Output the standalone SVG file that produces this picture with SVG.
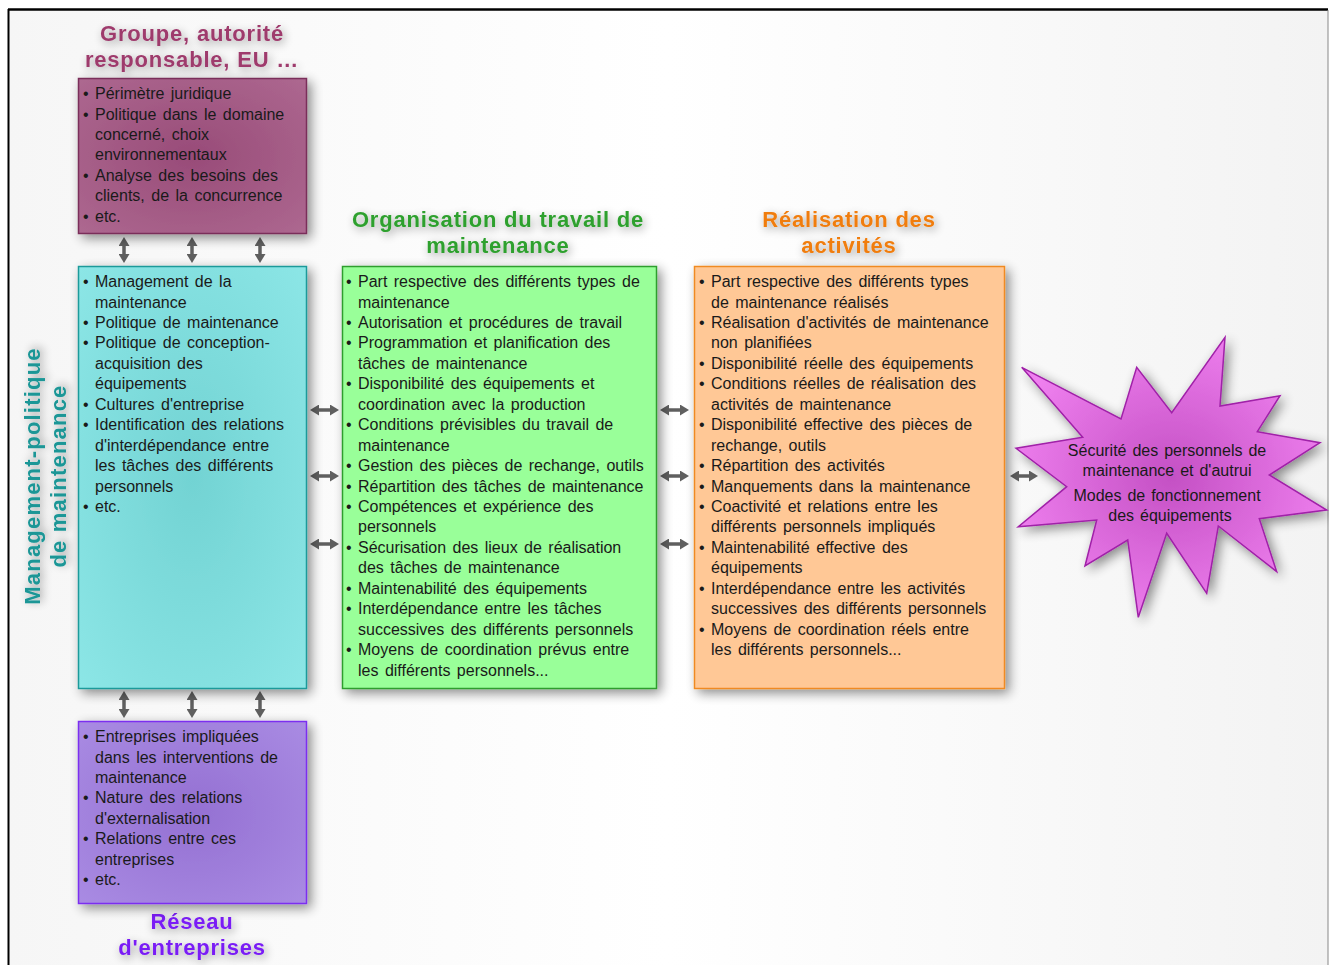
<svg xmlns="http://www.w3.org/2000/svg" width="1329" height="965" viewBox="0 0 1329 965">
<defs>
<style>
.body{font-family:"Liberation Sans",Arial,sans-serif;font-size:16px;fill:#1a1a1a;word-spacing:2px;}
.title{font-family:"Liberation Sans",Arial,sans-serif;font-size:22px;font-weight:bold;text-anchor:middle;letter-spacing:0.8px;}
.star{font-family:"Liberation Sans",Arial,sans-serif;font-size:16px;fill:#1a1a1a;text-anchor:middle;word-spacing:1.5px;}
.arrow{stroke:#5f5f5f;stroke-width:3.5;fill:none;marker-start:url(#ah);marker-end:url(#ah);}
</style>
<marker id="ah" viewBox="0 0 9 11" refX="3" refY="5.5" markerWidth="9" markerHeight="11" markerUnits="userSpaceOnUse" orient="auto-start-reverse">
<path d="M0,0 L9,5.5 L0,11 z" fill="#5f5f5f"/>
</marker>
<filter id="sh" x="-20%" y="-20%" width="140%" height="140%">
<feGaussianBlur in="SourceAlpha" stdDeviation="6"/>
<feOffset dx="4" dy="4" result="b"/>
<feComponentTransfer><feFuncA type="linear" slope="0.45"/></feComponentTransfer>
<feMerge><feMergeNode/><feMergeNode in="SourceGraphic"/></feMerge>
</filter>
<filter id="tsh" x="-20%" y="-40%" width="140%" height="180%">
<feGaussianBlur in="SourceAlpha" stdDeviation="5"/>
<feOffset dx="2" dy="3"/>
<feComponentTransfer><feFuncA type="linear" slope="0.4"/></feComponentTransfer>
<feMerge><feMergeNode/><feMergeNode in="SourceGraphic"/></feMerge>
</filter>
<linearGradient id="bg" x1="0" y1="0" x2="1" y2="0">
<stop offset="0" stop-color="#f6f6f6"/>
<stop offset="0.5" stop-color="#ffffff"/>
<stop offset="1" stop-color="#f3f3f3"/>
</linearGradient>
<radialGradient id="gPurple" cx="0.5" cy="0.5" r="0.7">
<stop offset="0" stop-color="#984b78"/>
<stop offset="1" stop-color="#ad6890"/>
</radialGradient>
<radialGradient id="gCyan" cx="0.5" cy="0.5" r="0.7">
<stop offset="0" stop-color="#72d3d3"/>
<stop offset="1" stop-color="#8ce6e6"/>
</radialGradient>
<radialGradient id="gViolet" cx="0.5" cy="0.5" r="0.7">
<stop offset="0" stop-color="#9470d2"/>
<stop offset="1" stop-color="#a98be3"/>
</radialGradient>
<radialGradient id="gStar" cx="0.5" cy="0.5" r="0.55">
<stop offset="0" stop-color="#c450c4"/>
<stop offset="1" stop-color="#ef80ef"/>
</radialGradient>
</defs>

<rect x="8" y="9" width="1320" height="960" fill="url(#bg)"/>
<line x1="8" y1="9.5" x2="1328" y2="9.5" stroke="#000" stroke-width="2.5"/>
<line x1="8.5" y1="9" x2="8.5" y2="965" stroke="#000" stroke-width="2"/>
<line x1="1328" y1="10" x2="1328" y2="965" stroke="#888" stroke-width="1"/>

<g id="titles">
<text class="title" fill="#9e3a6c" filter="url(#tsh)"><tspan x="192" y="41">Groupe, autorité</tspan><tspan x="192" y="67">responsable, EU …</tspan></text>
<text class="title" fill="#2ea02e" filter="url(#tsh)"><tspan x="498" y="227">Organisation du travail de</tspan><tspan x="498" y="253">maintenance</tspan></text>
<text class="title" fill="#f07d0f" filter="url(#tsh)"><tspan x="849" y="227">Réalisation des</tspan><tspan x="849" y="253">activités</tspan></text>
<text class="title" fill="#7a1ff5" filter="url(#tsh)"><tspan x="192" y="929">Réseau</tspan><tspan x="192" y="955">d'entreprises</tspan></text>
<text class="title" fill="#1a9696" filter="url(#tsh)" transform="translate(0,476) rotate(-90)" style="letter-spacing:1.2px"><tspan x="0" y="40">Management-politique</tspan><tspan x="0" y="66">de maintenance</tspan></text>
</g>

<g id="connectors">
<line class="arrow" x1="124" y1="243" x2="124" y2="257"/>
<line class="arrow" x1="192" y1="243" x2="192" y2="257"/>
<line class="arrow" x1="260" y1="243" x2="260" y2="257"/>
<line class="arrow" x1="124" y1="697" x2="124" y2="712"/>
<line class="arrow" x1="192" y1="697" x2="192" y2="712"/>
<line class="arrow" x1="260" y1="697" x2="260" y2="712"/>
<line class="arrow" x1="316" y1="410" x2="333" y2="410"/>
<line class="arrow" x1="316" y1="476" x2="333" y2="476"/>
<line class="arrow" x1="316" y1="544" x2="333" y2="544"/>
<line class="arrow" x1="666" y1="410" x2="683" y2="410"/>
<line class="arrow" x1="666" y1="476" x2="683" y2="476"/>
<line class="arrow" x1="666" y1="544" x2="683" y2="544"/>
<line class="arrow" x1="1016" y1="476" x2="1032" y2="476"/>
</g>

<g id="groupe">
<rect x="78.5" y="78.5" width="228" height="155" fill="url(#gPurple)" stroke="#7a2d5a" stroke-width="1.5" filter="url(#sh)"/>
<text class="body">
<tspan x="83" y="99">•</tspan><tspan x="95">Périmètre juridique</tspan>
<tspan x="83" y="119.5">•</tspan><tspan x="95">Politique dans le domaine</tspan>
<tspan x="95" y="139.9">concerné, choix</tspan>
<tspan x="95" y="160.4">environnementaux</tspan>
<tspan x="83" y="180.8">•</tspan><tspan x="95">Analyse des besoins des</tspan>
<tspan x="95" y="201.3">clients, de la concurrence</tspan>
<tspan x="83" y="221.7">•</tspan><tspan x="95">etc.</tspan>
</text>
</g>

<g id="management">
<rect x="78.5" y="266.5" width="228" height="422" fill="url(#gCyan)" stroke="#1a9a9a" stroke-width="1.5" filter="url(#sh)"/>
<text class="body">
<tspan x="83" y="287">•</tspan><tspan x="95">Management de la</tspan>
<tspan x="95" y="307.5">maintenance</tspan>
<tspan x="83" y="327.9">•</tspan><tspan x="95">Politique de maintenance</tspan>
<tspan x="83" y="348.4">•</tspan><tspan x="95">Politique de conception-</tspan>
<tspan x="95" y="368.8">acquisition des</tspan>
<tspan x="95" y="389.3">équipements</tspan>
<tspan x="83" y="409.7">•</tspan><tspan x="95">Cultures d'entreprise</tspan>
<tspan x="83" y="430.2">•</tspan><tspan x="95">Identification des relations</tspan>
<tspan x="95" y="450.6">d'interdépendance entre</tspan>
<tspan x="95" y="471.1">les tâches des différents</tspan>
<tspan x="95" y="491.5">personnels</tspan>
<tspan x="83" y="512">•</tspan><tspan x="95">etc.</tspan>
</text>
</g>

<g id="reseau">
<rect x="78.5" y="721.5" width="228" height="182" fill="url(#gViolet)" stroke="#7b2ff0" stroke-width="1.5" filter="url(#sh)"/>
<text class="body">
<tspan x="83" y="742">•</tspan><tspan x="95">Entreprises impliquées</tspan>
<tspan x="95" y="762.5">dans les interventions de</tspan>
<tspan x="95" y="782.9">maintenance</tspan>
<tspan x="83" y="803.4">•</tspan><tspan x="95">Nature des relations</tspan>
<tspan x="95" y="823.8">d'externalisation</tspan>
<tspan x="83" y="844.3">•</tspan><tspan x="95">Relations entre ces</tspan>
<tspan x="95" y="864.7">entreprises</tspan>
<tspan x="83" y="885.2">•</tspan><tspan x="95">etc.</tspan>
</text>
</g>

<g id="organisation">
<rect x="342.5" y="266.5" width="314" height="422" fill="#99ff99" stroke="#2e9e2e" stroke-width="1.5" filter="url(#sh)"/>
<text class="body">
<tspan x="346" y="287">•</tspan><tspan x="358">Part respective des différents types de</tspan>
<tspan x="358" y="307.5">maintenance</tspan>
<tspan x="346" y="327.9">•</tspan><tspan x="358">Autorisation et procédures de travail</tspan>
<tspan x="346" y="348.4">•</tspan><tspan x="358">Programmation et planification des</tspan>
<tspan x="358" y="368.8">tâches de maintenance</tspan>
<tspan x="346" y="389.3">•</tspan><tspan x="358">Disponibilité des équipements et</tspan>
<tspan x="358" y="409.7">coordination avec la production</tspan>
<tspan x="346" y="430.2">•</tspan><tspan x="358">Conditions prévisibles du travail de</tspan>
<tspan x="358" y="450.6">maintenance</tspan>
<tspan x="346" y="471.1">•</tspan><tspan x="358">Gestion des pièces de rechange, outils</tspan>
<tspan x="346" y="491.5">•</tspan><tspan x="358">Répartition des tâches de maintenance</tspan>
<tspan x="346" y="512">•</tspan><tspan x="358">Compétences et expérience des</tspan>
<tspan x="358" y="532.4">personnels</tspan>
<tspan x="346" y="552.9">•</tspan><tspan x="358">Sécurisation des lieux de réalisation</tspan>
<tspan x="358" y="573.3">des tâches de maintenance</tspan>
<tspan x="346" y="593.8">•</tspan><tspan x="358">Maintenabilité des équipements</tspan>
<tspan x="346" y="614.2">•</tspan><tspan x="358">Interdépendance entre les tâches</tspan>
<tspan x="358" y="634.7">successives des différents personnels</tspan>
<tspan x="346" y="655.1">•</tspan><tspan x="358">Moyens de coordination prévus entre</tspan>
<tspan x="358" y="675.6">les différents personnels...</tspan>
</text>
</g>

<g id="realisation">
<rect x="694.5" y="266.5" width="310" height="422" fill="#ffc896" stroke="#f08a24" stroke-width="1.5" filter="url(#sh)"/>
<text class="body">
<tspan x="699" y="287">•</tspan><tspan x="711">Part respective des différents types</tspan>
<tspan x="711" y="307.5">de maintenance réalisés</tspan>
<tspan x="699" y="327.9">•</tspan><tspan x="711">Réalisation d'activités de maintenance</tspan>
<tspan x="711" y="348.4">non planifiées</tspan>
<tspan x="699" y="368.8">•</tspan><tspan x="711">Disponibilité réelle des équipements</tspan>
<tspan x="699" y="389.3">•</tspan><tspan x="711">Conditions réelles de réalisation des</tspan>
<tspan x="711" y="409.7">activités de maintenance</tspan>
<tspan x="699" y="430.2">•</tspan><tspan x="711">Disponibilité effective des pièces de</tspan>
<tspan x="711" y="450.6">rechange, outils</tspan>
<tspan x="699" y="471.1">•</tspan><tspan x="711">Répartition des activités</tspan>
<tspan x="699" y="491.5">•</tspan><tspan x="711">Manquements dans la maintenance</tspan>
<tspan x="699" y="512">•</tspan><tspan x="711">Coactivité et relations entre les</tspan>
<tspan x="711" y="532.4">différents personnels impliqués</tspan>
<tspan x="699" y="552.9">•</tspan><tspan x="711">Maintenabilité effective des</tspan>
<tspan x="711" y="573.3">équipements</tspan>
<tspan x="699" y="593.8">•</tspan><tspan x="711">Interdépendance entre les activités</tspan>
<tspan x="711" y="614.2">successives des différents personnels</tspan>
<tspan x="699" y="634.7">•</tspan><tspan x="711">Moyens de coordination réels entre</tspan>
<tspan x="711" y="655.1">les différents personnels...</tspan>
</text>
</g>

<g id="securite">
<polygon points="1021.7,367.3 1121,419 1136.7,367.3 1171.7,412.7 1225,337.3 1220,406 1280,395.7 1257.3,431.7 1320,442.7 1269.3,475 1326.7,510 1259.3,518.7 1276.7,571.7 1218.3,526 1206.7,593.3 1166.7,533.3 1138.3,617.3 1127.7,540 1085,566 1096.7,520 1018.3,526.7 1066.7,486.7 1016,448.3 1082.7,437.3" fill="url(#gStar)" stroke="#a020a8" stroke-width="1.5" stroke-linejoin="miter" filter="url(#sh)"/>
<text class="star">
<tspan x="1170" y="456">Sécurité des personnels de</tspan>
<tspan x="1170" y="476">maintenance et d'autrui</tspan>
<tspan x="1170" y="501">Modes de fonctionnement</tspan>
<tspan x="1170" y="521">des équipements</tspan>
</text>
</g>
</svg>
